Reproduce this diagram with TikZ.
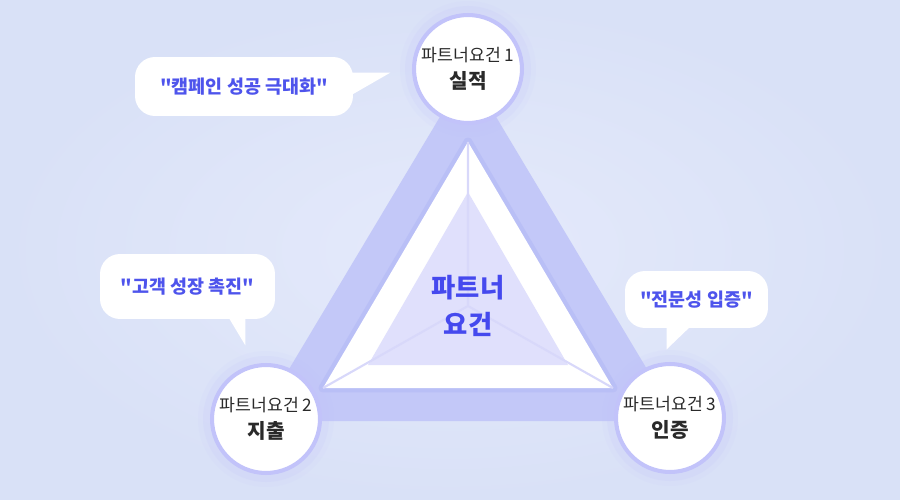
\documentclass[tikz,border=0pt]{standalone}
\usepackage{fontspec}
\newfontfamily\kr{Noto Sans CJK KR}
\usetikzlibrary{positioning}
\definecolor{bgout}{HTML}{D9E1F7}
\definecolor{bgin}{HTML}{E5EAFB}
\definecolor{band}{HTML}{C3C8F8}
\definecolor{bandin}{HTML}{B3B9F5}
\definecolor{core}{HTML}{E0E0FC}
\definecolor{faint}{HTML}{D8D8FA}
\definecolor{ring}{HTML}{C2C3FA}
\definecolor{quote}{HTML}{4E54EC}
\definecolor{title}{HTML}{4549EE}
\definecolor{ink}{HTML}{2A2A2A}
\tikzset{
  req/.style={circle, fill=white, draw=ring, line width=2.3pt, minimum size=2.16cm, inner sep=0pt, align=center, text=ink},
  bubble/.style={fill=white, rounded corners=0.4cm, inner sep=0pt, text=quote, font=\kr\bfseries\fontsize{10.5}{12}\selectfont}
}
\newcommand\reqtext[2]{{\fontsize{9.8}{12}\selectfont #1}\\[3pt]{\fontsize{11.5}{12}\selectfont\bfseries #2}}
\begin{document}
\begin{tikzpicture}[x=0.02cm, y=-0.02cm, font=\kr, line join=round]
\useasboundingbox (0,0) rectangle (900,500);
\shade[inner color=bgin, outer color=bgout] (0,0) rectangle (900,500);
% triangle layers
\fill[band] (468,70)--(258,421)--(678,421)--cycle;
\draw[bandin, line width=5pt, opacity=0.6] (468,142)--(323,388)--(613,388)--cycle;
\fill[white] (468,142)--(323,388)--(613,388)--cycle;
\fill[core] (468,192)--(368,365)--(568,365)--cycle;
\coordinate (mid) at (468,306);
\draw[faint, line width=1.2pt] (mid)--(468,142) (mid)--(323,388) (mid)--(613,388);
\node[font=\kr\bfseries\fontsize{15}{21}\selectfont, text=title, align=center] (center) at (mid) {파트너\\요건};
% glow
\foreach \p in {(468,69),(266,419),(670,418)}
  \foreach \r/\o in {68/0.08,63/0.15}
    \fill[ring, opacity=\o] \p circle (\r);
% requirements
\node[req] (req1) at (468,69) {\reqtext{파트너요건 1}{실적}};
\node[req] (req2) at (266,419) {\reqtext{파트너요건 2}{지출}};
\node[req] (req3) at (670,418) {\reqtext{파트너요건 3}{인증}};
% speech bubbles
\node[bubble, minimum width=4.36cm, minimum height=1.18cm] (bub1) at (244,86.5) {"캠페인 성공 극대화"};
\node[bubble, minimum width=3.5cm, minimum height=1.3cm] (bub2) at (187.5,286.5) {"고객 성장 촉진"};
\node[bubble, minimum width=2.86cm, minimum height=1.14cm] (bub3) at (696.5,299.5) {"전문성 입증"};
\fill[white] (bub1.north east) ++(-10,16) -- ++(47,0) -- ++(-47,27) -- cycle;
\fill[white] (bub2.south east) ++(-48,-4) -- ++(18,30) -- ++(0,-30) -- cycle;
\fill[white] (bub3.south west) ++(42,-4) -- ++(0,25) -- ++(26,-25) -- cycle;
\end{tikzpicture}
\end{document}
